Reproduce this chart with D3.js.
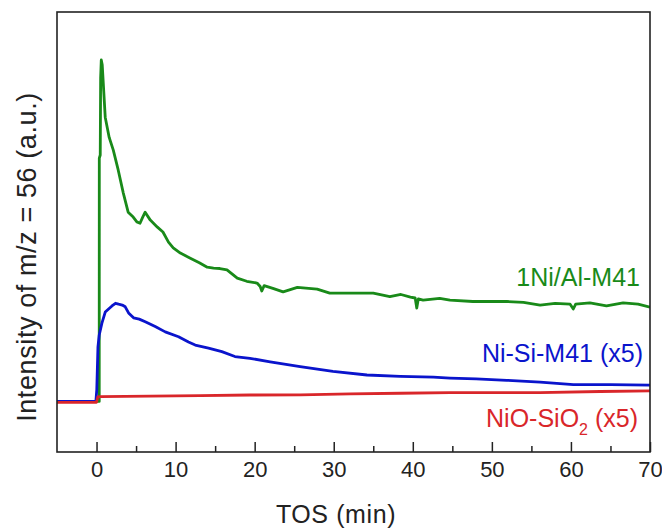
<!DOCTYPE html>
<html>
<head>
<meta charset="utf-8">
<script src="https://cdn.jsdelivr.net/npm/d3@7"></script>
<style>
  body { margin: 0; background: #fff; }
  text { font-family: "Liberation Sans", Arial, sans-serif; }
</style>
</head>
<body>
<div id="chart"></div>
<script>
// values (time in min, intensity in arbitrary units 0-100)
const niAlTime = [-5, 0.3, 0.34, 0.35, 0.47, 0.52, 0.6, 0.72, 1.1, 1.6, 2.12, 2.74, 3.38, 4.0, 4.64, 5.1, 5.5, 5.8, 6.15, 6.8, 7.7, 8.4, 9.1, 9.7, 10.6, 11.8, 13.0, 14.0, 14.8, 15.6, 16.5, 17.8, 19.0, 20.3, 20.7, 20.9, 21.2, 22.3, 23.6, 25.4, 27.9, 29.5, 32.1, 35.0, 37.1, 38.5, 39.7, 40.3, 40.5, 40.7, 41.3, 43.4, 44.7, 47.6, 51.9, 54.0, 56.1, 58.0, 59.9, 60.3, 60.6, 62.4, 64.5, 66.6, 68.5, 70];
const niAlValue = [11.5, 11.5, 11.5, 66.8, 67.5, 85, 89.1, 88.0, 76.1, 71.5, 68.6, 64.1, 58.9, 54.5, 53.4, 52.3, 52.0, 53.2, 54.5, 52.7, 51.1, 50.0, 47.7, 46.4, 45.2, 44.1, 43.0, 42.0, 41.8, 41.7, 41.4, 39.5, 38.8, 38.4, 37.6, 36.6, 37.8, 37.2, 36.4, 37.4, 37.0, 36.1, 36.1, 36.1, 35.3, 35.8, 35.2, 35.0, 32.7, 34.8, 34.5, 34.9, 34.5, 34.2, 34.2, 34.0, 33.4, 33.8, 33.6, 32.5, 33.6, 33.9, 33.2, 33.9, 33.6, 32.9];

const niSiTime = [-5, -0.08, 0.03, 0.18, 0.34, 0.68, 1.1, 1.95, 2.4, 2.79, 3.25, 3.63, 4.05, 4.68, 5.4, 6.16, 7.42, 8.69, 10.37, 11.63, 12.48, 14.16, 15.85, 17.5, 19.4, 21.96, 25.75, 29.9, 34.2, 38.4, 42.6, 44.7, 48.0, 51.9, 56.1, 60.3, 65.0, 70];
const niSiValue = [11.5, 11.5, 14.1, 23.9, 26.6, 29.3, 31.8, 33.2, 33.8, 33.6, 33.4, 33.0, 31.6, 30.5, 30.2, 29.6, 28.5, 27.3, 26.2, 25.0, 24.3, 23.6, 22.8, 21.7, 21.3, 20.5, 19.4, 18.3, 17.5, 17.2, 17.0, 16.8, 16.6, 16.3, 15.9, 15.3, 15.3, 15.2];

const nioTime = [-5, 0.0, 0.15, 0.47, 6.8, 13.1, 19.4, 25.8, 32.1, 38.4, 44.7, 50.4, 56.1, 63.7, 70];
const nioValue = [11.3, 11.3, 12.5, 12.6, 12.7, 12.8, 12.95, 13.0, 13.2, 13.35, 13.5, 13.5, 13.5, 13.75, 13.9];

const majorTicks = [0, 10, 20, 30, 40, 50, 60, 70];
const minorTicks = [5, 15, 25, 35, 45, 55, 65];

const W = 662, H = 531;
const plotLeft = 57, plotRight = 650, plotTop = 12, plotBottom = 452;

const svg = d3.select("#chart").append("svg")
    .attr("width", W)
    .attr("height", H);

const x = d3.scaleLinear().domain([-5, 70]).range([plotLeft, plotRight]);
const y = d3.scaleLinear().domain([0, 100]).range([plotBottom, plotTop]);

svg.append("clipPath").attr("id", "plot")
  .append("rect")
    .attr("x", plotLeft).attr("y", plotTop)
    .attr("width", plotRight - plotLeft).attr("height", plotBottom - plotTop);

const line = d3.line().x(d => x(d[0])).y(d => y(d[1]));

const series = [
  {t: niAlTime, v: niAlValue, color: "#198a19"},
  {t: niSiTime, v: niSiValue, color: "#0a14cc"},
  {t: nioTime, v: nioValue, color: "#d9262a"}
];

series.forEach(s => {
  svg.append("path")
     .datum(s.t.map((t, i) => [t, s.v[i]]))
     .attr("clip-path", "url(#plot)")
     .attr("fill", "none")
     .attr("stroke", s.color)
     .attr("stroke-width", 2.8)
     .attr("stroke-linejoin", "round")
     .attr("d", line);
});

// bottom axis, ticks pointing inward
const axisG = svg.append("g").attr("transform", `translate(0,${plotBottom})`);
axisG.call(d3.axisBottom(x).tickValues(majorTicks).tickSize(-10).tickPadding(9).tickFormat(d3.format("d")));
const minorG = svg.append("g").attr("transform", `translate(0,${plotBottom})`);
minorG.call(d3.axisBottom(x).tickValues(minorTicks).tickSize(-6).tickFormat(""));

[axisG, minorG].forEach(g => {
  g.select(".domain").remove();
  g.selectAll("line").attr("stroke", "#222").attr("stroke-width", 1.5);
});
axisG.selectAll("text")
     .attr("font-size", 22)
     .attr("fill", "#222")
     .style("font-family", "Liberation Sans, Arial, sans-serif");

// frame
svg.append("rect")
   .attr("x", plotLeft).attr("y", plotTop)
   .attr("width", plotRight - plotLeft).attr("height", plotBottom - plotTop)
   .attr("fill", "none")
   .attr("stroke", "#222")
   .attr("stroke-width", 1.6);

// axis titles
svg.append("text")
   .attr("x", 336).attr("y", 523)
   .attr("text-anchor", "middle")
   .attr("font-size", 25)
   .attr("letter-spacing", 0.6)
   .attr("fill", "#222")
   .text("TOS (min)");

svg.append("text")
   .attr("transform", "translate(36,257) rotate(-90)")
   .attr("text-anchor", "middle")
   .attr("font-size", 27)
   .attr("letter-spacing", 0.6)
   .attr("fill", "#222")
   .text("Intensity of m/z = 56 (a.u.)");

// series labels
svg.append("text")
   .attr("x", 640).attr("y", 286)
   .attr("text-anchor", "end")
   .attr("font-size", 25)
   .attr("fill", "#198a19")
   .text("1Ni/Al-M41");

svg.append("text")
   .attr("x", 643).attr("y", 362)
   .attr("text-anchor", "end")
   .attr("font-size", 25)
   .attr("fill", "#0a14cc")
   .text("Ni-Si-M41 (x5)");

const red = svg.append("text")
   .attr("x", 638).attr("y", 427)
   .attr("text-anchor", "end")
   .attr("font-size", 25)
   .attr("fill", "#d9262a");
red.append("tspan").text("NiO-SiO");
red.append("tspan").attr("font-size", 16).attr("dy", 8).text("2");
red.append("tspan").attr("dy", -8).text(" (x5)");
</script>
</body>
</html>
